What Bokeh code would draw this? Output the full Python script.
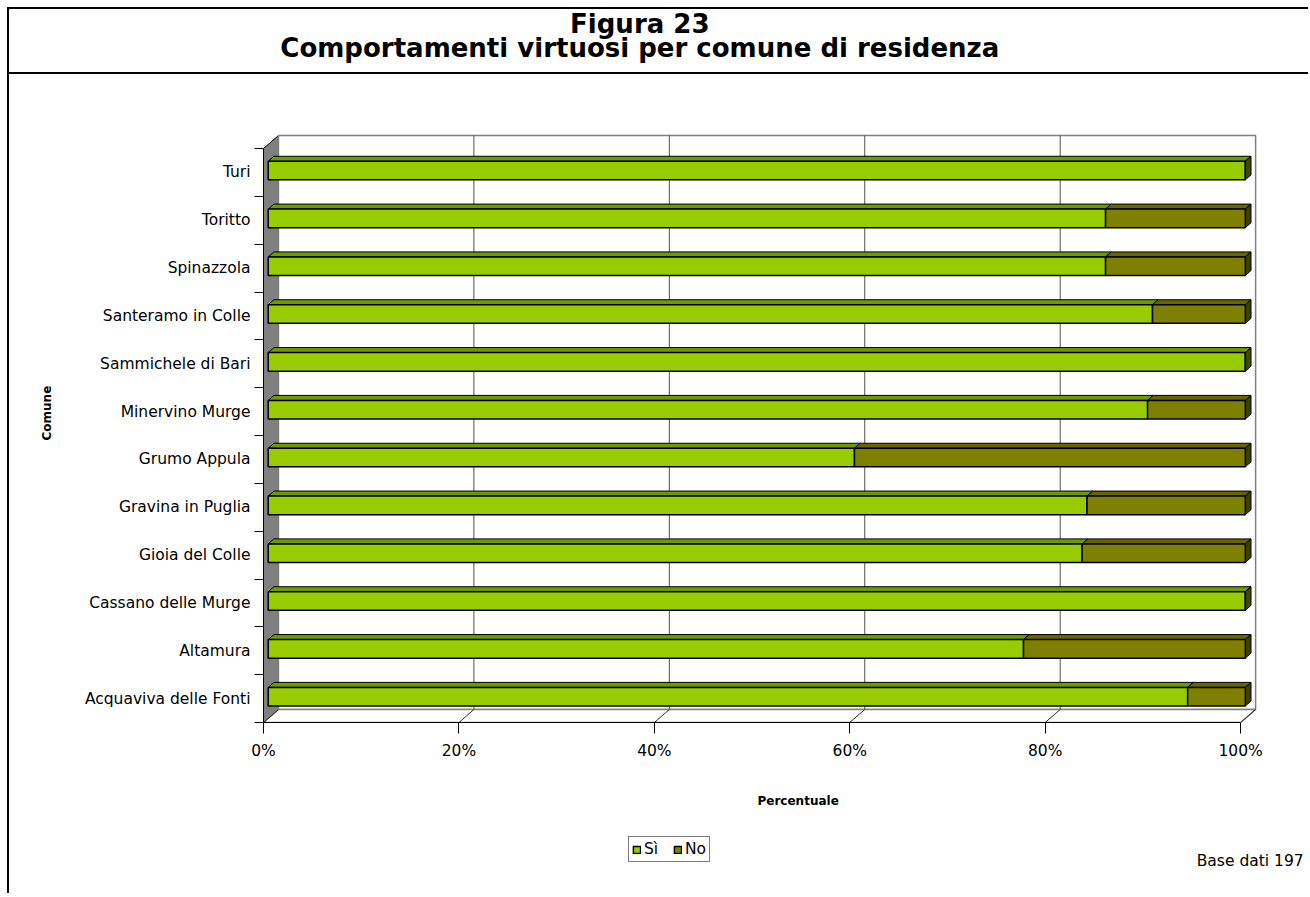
from bokeh.plotting import figure
from bokeh.layouts import column
from bokeh.models import FixedTicker, Legend, LegendItem, ColumnDataSource, Title
from bokeh.core.properties import value
from bokeh.embed import file_html
from bokeh.resources import INLINE

# ---------------- data ----------------
comuni = ["Acquaviva delle Fonti", "Altamura", "Cassano delle Murge", "Gioia del Colle",
          "Gravina in Puglia", "Grumo Appula", "Minervino Murge", "Sammichele di Bari",
          "Santeramo in Colle", "Spinazzola", "Toritto", "Turi"]
si = [94.1, 77.3, 100.0, 83.3, 83.8, 60.0, 90.0, 100.0, 90.5, 85.7, 85.7, 100.0]
no = [round(100 - v, 1) for v in si]
x_ticks = [0, 20, 40, 60, 80, 100]
series_names = ["Sì", "No"]
title_1 = "Figura 23"
title_2 = "Comportamenti virtuosi per comune di residenza"
x_title = "Percentuale"
y_title = "Comune"
note = "Base dati 197"

# ---------------- style ----------------
FONT = "DejaVu Sans"
C_SI, C_SI_TOP, C_SI_END = "#99CC00", "#6E9900", "#3F4D00"
C_NO, C_NO_TOP, C_NO_END = "#808000", "#666600", "#404000"
LBL = "15.5px"

W = 1301
FH = 713                         # frame height (frame starts at canvas top)
H1 = FH + 115
n = len(comuni)
PX_X = 9.79      # px per percent
PX_Y = 47.83     # px per category
FL = 252                         # frame left within canvas
FW = W - FL
x_end = FW / PX_X
y_end = -0.5 + FH / PX_Y


def px_to_y(cy):
    """canvas y (px from top) -> data y"""
    return -0.5 + (FH - cy) / PX_Y


p = figure(width=W, height=H1, output_backend="svg", toolbar_location=None,
           x_range=(0, x_end), y_range=(-0.5, y_end),
           min_border_left=FL, min_border_right=0,
           min_border_top=0, min_border_bottom=H1 - FH)
p.outline_line_color = None
p.grid.visible = False
p.background_fill_color = None
p.border_fill_color = None
p.styles = {
    "margin-left": "7px", "margin-top": "7px",
    "border-left": "2px solid black", "border-top": "2px solid black",
    "background": "linear-gradient(#000, #000) 0 63px / 100% 2px no-repeat, #ffffff",
}

# titles
p.text(x=[(638 - 261) / PX_X] * 2, y=[px_to_y(14), px_to_y(38)], text=[title_1, title_2],
       text_align="center", text_baseline="middle", text_font=value(FONT),
       text_font_size="26px", text_font_style="bold", text_color="black")

# 3D geometry (data units)
DX = 15 / PX_X
DY = 13 / PX_Y
bottom = -0.5
top = n - 0.5

p.patch([0, DX, DX, 0], [bottom, bottom + DY, top + DY, top],
        fill_color="#808080", line_color="black", line_width=1)
p.patch([DX, 100 + DX, 100 + DX, DX], [bottom + DY, bottom + DY, top + DY, top + DY],
        fill_color="white", line_color="#808080", line_width=1.5)
p.patch([0, 100, 100 + DX, DX], [bottom, bottom, bottom + DY, bottom + DY],
        fill_color="white", line_color="#808080", line_width=1.5)
gx = [t + DX for t in x_ticks[1:-1]]
p.segment(x0=gx, y0=[bottom + DY] * len(gx), x1=gx, y1=[top + DY] * len(gx),
          line_color="#505050", line_width=1)
p.segment(x0=x_ticks, y0=[bottom] * len(x_ticks),
          x1=[t + DX for t in x_ticks], y1=[bottom + DY] * len(x_ticks),
          line_color="#303030", line_width=1)

# bars
BX = 4.7 / PX_X
BY = 1.9 / PX_Y
HH = 9.3 / PX_Y
TX = 5.7 / PX_X
TY = 5.0 / PX_Y
ys = list(range(n))
src = ColumnDataSource(dict(
    y0=[y + BY - HH for y in ys], y1=[y + BY + HH for y in ys],
    s0=[BX] * n, s1=[v + BX for v in si], n1=[v + BX + w for v, w in zip(si, no)]))


def top_faces(starts, ends):
    xs, yy = [], []
    for a, b, y in zip(starts, ends, ys):
        t = y + BY + HH
        xs.append([a, b, b + TX, a + TX])
        yy.append([t, t, t + TY, t + TY])
    return xs, yy


xs, yy = top_faces([BX] * n, [v + BX for v in si])
p.patches(xs, yy, fill_color=C_SI_TOP, line_color="black", line_width=1)
xs, yy = top_faces([v + BX for v in si], [v + BX + w for v, w in zip(si, no)])
p.patches(xs, yy, fill_color=C_NO_TOP, line_color="black", line_width=1)

end_x, end_y, end_c = [], [], []
for v, w, y in zip(si, no, ys):
    e = v + w + BX
    b0, b1 = y + BY - HH, y + BY + HH
    end_x.append([e, e + TX, e + TX, e])
    end_y.append([b0, b0 + TY, b1 + TY, b1])
    end_c.append(C_NO_END if w > 0 else C_SI_END)
p.patches(end_x, end_y, fill_color=end_c, line_color="black", line_width=1)

p.quad(left="s0", right="s1", bottom="y0", top="y1", source=src,
       fill_color=C_SI, line_color="black", line_width=1.5)
p.quad(left="s1", right="n1", bottom="y0", top="y1", source=src,
       fill_color=C_NO, line_color="black", line_width=1.5)

# axes
xa = p.xaxis[0]
xa.ticker = FixedTicker(ticks=x_ticks)
xa.major_label_overrides = {t: f"{t}%" for t in x_ticks}
xa.bounds = (0, 100)
xa.axis_line_color = "black"
xa.major_tick_in = 0
xa.major_tick_out = 11
xa.minor_tick_out = 0
xa.major_label_standoff = 8
xa.major_label_text_font = FONT
xa.major_label_text_font_size = LBL
xa.major_label_text_color = "black"

ya = p.yaxis[0]
ya.ticker = FixedTicker(ticks=ys, minor_ticks=[y - 0.5 for y in ys] + [n - 0.5])
ya.major_label_overrides = {y: c for y, c in zip(ys, comuni)}
ya.bounds = (bottom, top)
ya.axis_line_color = "black"
ya.major_tick_in = 0
ya.major_tick_out = 0
ya.minor_tick_in = 0
ya.minor_tick_out = 9
ya.minor_tick_line_color = "black"
ya.major_label_standoff = 4
ya.major_label_text_font = FONT
ya.major_label_text_font_size = LBL
ya.major_label_text_color = "black"

# axis titles as side titles (so they can be positioned like the reference)
p.add_layout(Title(text=y_title, align="left", offset=282, standoff=56,
                   text_font=FONT, text_font_size="12px", text_font_style="bold",
                   text_color="black"), "left")
p.add_layout(Title(text=x_title, align="left", offset=494, standoff=58,
                   text_font=FONT, text_font_size="12px", text_font_style="bold",
                   text_color="black"), "below")

# ---------------- legend strip ----------------
H2 = 58
q = figure(width=W, height=H2, output_backend="svg", toolbar_location=None,
           x_range=(0, FW), y_range=(0, H2),
           min_border_left=FL, min_border_right=0, min_border_top=0, min_border_bottom=0,
           x_axis_type=None, y_axis_type=None)
q.grid.visible = False
q.outline_line_color = None
q.background_fill_color = "white"
q.border_fill_color = None
q.styles = {"margin-left": "7px", "border-left": "2px solid black", "background": "#ffffff"}
# legend proxies (kept outside the visible range)
lg_si = q.quad(left=[-20], right=[-10], top=[-10], bottom=[-20], fill_color=C_SI,
               line_color="black", line_width=1.5)
lg_no = q.quad(left=[-20], right=[-10], top=[-10], bottom=[-20], fill_color=C_NO,
               line_color="black", line_width=1.5)
legend = Legend(items=[LegendItem(label=series_names[0], renderers=[lg_si]),
                       LegendItem(label=series_names[1], renderers=[lg_no])],
                orientation="horizontal", location=(365, 31),
                label_text_font=FONT, label_text_font_size=LBL, label_text_color="black",
                glyph_width=9, glyph_height=9, label_standoff=3, spacing=9,
                padding=3, margin=0, border_line_color="black", border_line_width=1,
                label_height=16, background_fill_alpha=1)
q.add_layout(legend, "center")
q.text(x=[935], y=[33], text=[note], text_align="left", text_baseline="middle",
       text_font=value(FONT), text_font_size="15.5px", text_color="black")

open("out.html", "w").write(file_html(column(p, q, spacing=0), INLINE))
